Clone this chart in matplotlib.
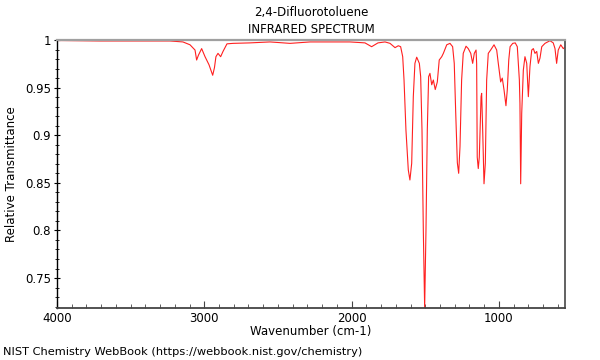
import matplotlib
matplotlib.use("Agg")
import matplotlib.pyplot as plt
from matplotlib.ticker import MultipleLocator, FuncFormatter

# ---------------------------------------------------------------
# DATA
# ---------------------------------------------------------------

wavenumber = [
    4000, 3708, 3369, 3233, 3145, 3097, 3063, 3052, 3040, 3018,
    2995, 2968, 2943, 2931, 2921, 2907, 2889, 2873, 2846, 2805,
    2690, 2554, 2418, 2282, 2147, 2011, 1909, 1864, 1821, 1773,
    1739, 1705, 1683, 1667, 1653, 1644, 1631, 1615, 1604, 1592,
    1581, 1570, 1558, 1540, 1531, 1522, 1513, 1504, 1495, 1486,
    1477, 1468, 1456, 1445, 1432, 1418, 1405, 1388, 1377, 1354,
    1332, 1314, 1303, 1293, 1282, 1273, 1264, 1253, 1242, 1223,
    1208, 1191, 1178, 1167, 1155, 1151, 1147, 1140, 1133, 1121,
    1117, 1110, 1101, 1092, 1083, 1072, 1056, 1033, 1015, 1004,
    988, 977, 965, 952, 943, 933, 924, 906, 889, 875,
    861, 857, 852, 845, 834, 823, 811, 800, 789, 777,
    766, 755, 743, 732, 721, 709, 687, 653, 631, 619,
    608, 597, 580, 563, 547,
]

transmittance = [
    0.9995, 0.999, 0.999, 0.999, 0.998, 0.995, 0.9895, 0.979, 0.984, 0.991,
    0.9825, 0.974, 0.963, 0.971, 0.9825, 0.986, 0.9825, 0.988, 0.996, 0.9965,
    0.997, 0.998, 0.9965, 0.998, 0.998, 0.998, 0.997, 0.993, 0.997, 0.998,
    0.9965, 0.992, 0.994, 0.993, 0.9825, 0.958, 0.9055, 0.8635, 0.853, 0.8705,
    0.9405, 0.9755, 0.982, 0.9755, 0.9615, 0.9055, 0.80, 0.7185, 0.80, 0.9055,
    0.9615, 0.965, 0.953, 0.958, 0.948, 0.956, 0.979, 0.9825, 0.986, 0.995,
    0.9965, 0.993, 0.9755, 0.923, 0.871, 0.860, 0.888, 0.958, 0.986, 0.9935,
    0.991, 0.986, 0.9755, 0.986, 0.9895, 0.9755, 0.877, 0.865, 0.877, 0.9405,
    0.944, 0.9055, 0.849, 0.8705, 0.958, 0.986, 0.9895, 0.995, 0.9895, 0.9755,
    0.956, 0.96, 0.9475, 0.931, 0.9475, 0.979, 0.993, 0.9965, 0.997, 0.993,
    0.958, 0.9335, 0.849, 0.923, 0.9685, 0.9825, 0.9755, 0.9405, 0.972, 0.9895,
    0.991, 0.986, 0.988, 0.9755, 0.981, 0.993, 0.9965, 0.9993, 0.997, 0.991,
    0.9755, 0.9895, 0.995, 0.991, 0.993,
]

TITLE = "2,4-Difluorotoluene\nINFRARED SPECTRUM"
FOOTER = "NIST Chemistry WebBook (https://webbook.nist.gov/chemistry)"

# ---------------------------------------------------------------
# PLOT
# ---------------------------------------------------------------

fig = plt.figure(figsize=(6, 3.6), dpi=100)
ax = fig.add_axes([0.095, 0.1444, 0.8467, 0.7444])

ax.plot(wavenumber, transmittance, color="#ff2020", lw=0.8)

ax.set_xlim(4000, 551)
ax.set_ylim(min(transmittance), 1.0)

ax.xaxis.set_major_locator(MultipleLocator(1000))
ax.xaxis.set_minor_locator(MultipleLocator(100))
ax.yaxis.set_major_locator(MultipleLocator(0.05))
ax.yaxis.set_minor_locator(MultipleLocator(0.01))
ax.yaxis.set_major_formatter(FuncFormatter(lambda v, p: f"{v:g}"))

ax.tick_params(axis="x", which="major", direction="in", length=5, width=0.8,
               labelsize=8.5, pad=3, colors="#444444", labelcolor="black")
ax.tick_params(axis="x", which="minor", direction="in", length=3, width=0.6,
               colors="#444444")
ax.tick_params(axis="y", which="major", direction="inout", length=5, width=0.8,
               labelsize=8.5, pad=2)
ax.tick_params(axis="y", which="minor", direction="inout", length=3, width=0.6)

ax.spines["top"].set_color("#a0a0a0")
ax.spines["top"].set_linewidth(1.6)
ax.spines["right"].set_color("#555555")
ax.spines["right"].set_linewidth(1.3)
ax.spines["bottom"].set_color("#444444")
ax.spines["bottom"].set_linewidth(1.3)
ax.spines["left"].set_color("black")
ax.spines["left"].set_linewidth(1.0)

ax.set_xlabel("Wavenumber (cm-1)", fontsize=8.5, labelpad=0)
ax.set_ylabel("Relative Transmittance", fontsize=8.5, labelpad=5)
ax.set_title(TITLE, fontsize=8.5, linespacing=1.45, pad=5)

fig.text(0.005, 1 - 352 / 360, FOOTER, fontsize=8.2, ha="left", va="center")

fig.savefig("out.png", dpi=100)
